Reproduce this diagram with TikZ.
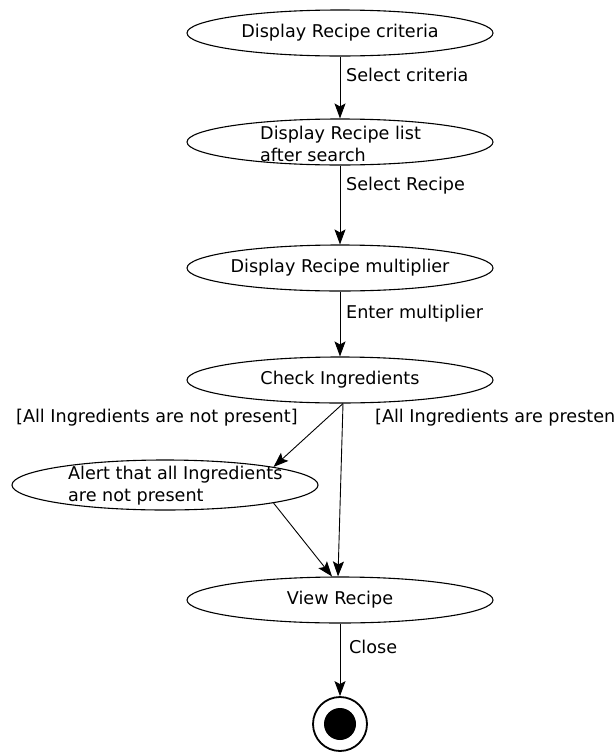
\documentclass[tikz,border=0pt]{standalone}
\usepackage{fontspec}
\setmainfont{DejaVu Sans}
\usetikzlibrary{shapes.geometric,arrows.meta}
% zero-width box, so that a long label does not widen its ellipse
\newcommand\centredtext[1]{\makebox[0pt]{#1}}
\begin{document}
\begin{tikzpicture}[x=1pt,y=-1pt,
  font=\fontsize{17.6}{22}\selectfont,
  act/.style={draw, line width=1.1pt, ellipse, minimum width=306pt, minimum height=46pt,
              inner sep=0pt, text height=12.5pt, text depth=3.5pt},
  flow/.style={draw, line width=0.9pt, -{Stealth[length=15pt,width=11pt,inset=3pt]}},
  caption/.style={anchor=base west, inner sep=0pt},
  multiline/.style={anchor=base west, align=left, inner sep=0pt},
]
\useasboundingbox (0,0) rectangle (614,753);

% activity states (two-line texts are anchored at the baseline of their last line)
\node[act] (crit) at (340,33) {\centredtext{Display Recipe criteria}};
\node[act] (list) at (340,142) {};
\node[multiline] (listtext) at (260,161) {Display Recipe list\\after search};
\node[act] (mult) at (340,268) {\centredtext{Display Recipe multiplier}};
\node[act] (check) at (340,380) {\centredtext{Check Ingredients}};
\node[act, minimum height=50pt] (alert) at (165,485) {};
\node[multiline] (alerttext) at (68,501) {Alert that all Ingredients\\are not present};
\node[act] (view) at (340,600) {\centredtext{View Recipe}};

% final state
\node[circle, draw, line width=1.8pt, minimum size=54pt, inner sep=0pt] (final) at (340,724) {};
\node[circle, fill, minimum size=32pt, inner sep=0pt] (finaldot) at (final.center) {};

% transitions
\draw[flow] (crit) -- (list);
\draw[flow] (list) -- (mult);
\draw[flow] (mult) -- (check);
\draw[flow] ([xshift=3pt]check.south) -- (alert.north east);
\draw[flow] ([xshift=3pt]check.south) -- ([xshift=-2pt]view.north);
\draw[flow] (alert.south east) -- ([xshift=-8pt]view.north);
\draw[flow] (view) -- (final);

% transition labels and guards
\node[caption] (selcrit) at (346,81) {Select criteria};
\node[caption] (selrec) at (346,190) {Select Recipe};
\node[caption] (entmult) at (346,318) {Enter multiplier};
\node[caption] (notpresent) at (16,422) {[All Ingredients are not present]};
\node[caption] (present) at (375,422) {[All Ingredients are presten};
\node[caption] (close) at (349,653) {Close};
\end{tikzpicture}
\end{document}
